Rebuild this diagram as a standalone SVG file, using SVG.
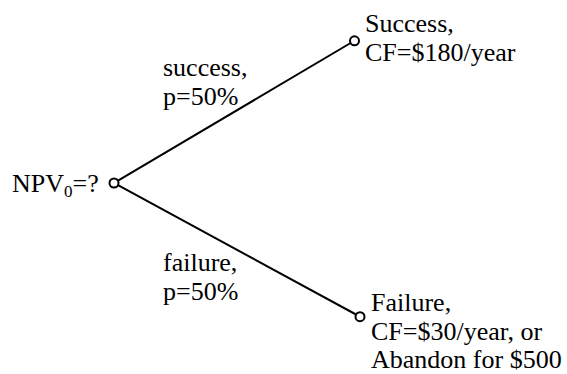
<svg xmlns="http://www.w3.org/2000/svg" width="567" height="374" viewBox="0 0 567 374">
<style>
.n{fill:#fff;stroke:#000;stroke-width:2}
.e{stroke:#000;stroke-width:2;fill:none}
</style>
<rect width="567" height="374" fill="#fff"/>
<g id="connectors">
<line class="e" x1="118" y1="180.7" x2="350.6" y2="43"/>
<line class="e" x1="118" y1="185.2" x2="356" y2="314.5"/>
</g>
<g font-family="'Liberation Serif', 'Times New Roman', 'DejaVu Serif', serif" font-size="26" fill="#000">
<g id="root">
<circle class="n" cx="114" cy="183" r="4.5"/>
<text x="12" y="192">NPV<tspan font-size="17" dy="5">0</tspan><tspan dy="-5">=?</tspan></text>
</g>
<g id="success">
<circle class="n" cx="354.5" cy="40.8" r="4.5"/>
<text x="365" y="32">Success,</text>
<text x="365" y="61">CF=$180/year</text>
</g>
<g id="failure">
<circle class="n" cx="360" cy="316.7" r="4.5"/>
<text x="371" y="311">Failure,</text>
<text x="371" y="340">CF=$30/year, or</text>
<text x="371" y="368">Abandon for $500</text>
</g>
<g id="labels">
<text x="163" y="76">success,</text>
<text x="163" y="105">p=50%</text>
<text x="163" y="271">failure,</text>
<text x="163" y="300">p=50%</text>
</g>
</g>
</svg>
